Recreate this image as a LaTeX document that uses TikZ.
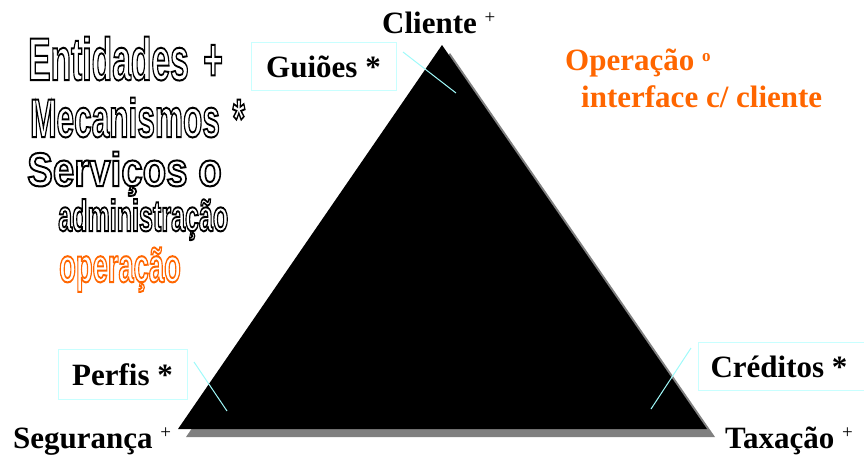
\documentclass[tikz,border=0pt]{standalone}
\usepackage{fontspec}
\setmainfont{Liberation Serif}
\newfontfamily\outfont{Liberation Sans}
\usepackage{graphicx}
\definecolor{orng}{RGB}{255,102,0}
\definecolor{boxcyan}{RGB}{200,255,255}
\definecolor{linecyan}{RGB}{160,250,250}
\definecolor{shadowgray}{RGB}{128,128,128}
\newcommand\outl[1]{\special{pdf:literal direct 1 Tr 2 w}#1\special{pdf:literal direct 0 Tr}}
\newcommand\supplus{\raisebox{10pt}{\mdseries\fontsize{19}{19}\selectfont +}}
\tikzset{
  lbl/.style={anchor=base west, inner sep=0pt, font=\fontsize{31}{31}\selectfont\bfseries},
  outlbl/.style={anchor=base west, inner sep=0pt},
  cbox/.style={draw=boxcyan, line width=1pt, font=\fontsize{31}{31}\selectfont\bfseries,
    text height=21pt, text depth=0pt},
  cline/.style={draw=linecyan, line width=1pt},
}
\begin{document}
\begin{tikzpicture}[x=1pt,y=-1pt]
\useasboundingbox (0,0) rectangle (864,459);
% triangle with shadow
\fill[shadowgray] (450,53) -- (186,437) -- (715,437) -- cycle;
\fill[black] (442,45) -- (178,429) -- (707,429) -- cycle;
% outline texts
\node[outlbl] (l1) at (28,80) {\scalebox{0.56}[1]{\outfont\bfseries\fontsize{60}{60}\selectfont\outl{Entidades\hspace{26pt}+}}};
\node[outlbl] (l2) at (30,137) {\scalebox{0.58}[1]{\outfont\bfseries\fontsize{54.5}{54.5}\selectfont\outl{Mecanismos\hspace{22pt}*}}};
\node[outlbl] (l3) at (27,186) {\scalebox{0.81}[1]{\outfont\bfseries\fontsize{47.5}{47.5}\selectfont\outl{Serviços o}}};
\node[outlbl] (l4) at (58,231) {\scalebox{0.57}[1]{\outfont\bfseries\fontsize{44}{44}\selectfont\outl{administração}}};
\node[outlbl, text=orng] (l5) at (59,282) {\scalebox{0.57}[1]{\outfont\bfseries\fontsize{48}{48}\selectfont\outl{operação}}};
% vertex labels
\node[lbl] (cli) at (382,33) {Cliente \supplus};
\node[lbl] (seg) at (13,448) {Segurança \supplus};
\node[lbl] (tax) at (725,448) {Taxação \supplus};
\node[lbl, text=orng] (op) at (565,70) {Operação \raisebox{9pt}{\fontsize{17}{17}\selectfont o}};
\node[lbl, text=orng] (itf) at (581,107) {interface c/ cliente};
% boxes
\node[cbox, minimum width=145pt, minimum height=48pt] (gui) at (323.5,66.5) {Guiões *};
\node[cbox, minimum width=129pt, minimum height=50pt] (per) at (122.5,374.5) {Perfis *};
\node[cbox, anchor=west, minimum height=48pt, inner xsep=12pt] (cre) at (698,366.5) {Créditos *\hspace*{30pt}};
% connectors
\coordinate (g1) at (403,52);
\coordinate (g2) at (456,93);
\coordinate (p1) at (194,362);
\coordinate (p2) at (227,411);
\coordinate (c1) at (691,348);
\coordinate (c2) at (651,409);
\draw[cline] (g1) -- (g2);
\draw[cline] (p1) -- (p2);
\draw[cline] (c1) -- (c2);
\end{tikzpicture}
\end{document}
